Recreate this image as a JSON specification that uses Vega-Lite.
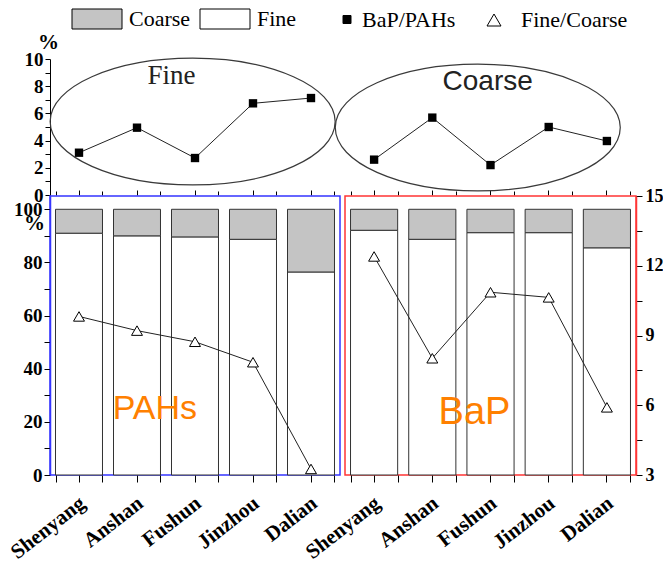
{
"$schema":"https://vega.github.io/schema/vega-lite/v6.json",
"padding":{"left":5,"top":8,"right":0,"bottom":0},
"background":"white",
"config":{
 "font":"Liberation Serif",
 "axis":{"labelFont":"Liberation Serif","labelFontWeight":"bold","labelFontSize":19,"labelColor":"black","tickColor":"black","domainColor":"black","grid":false,"labelOverlap":false,"titleColor":"black","titleFont":"Liberation Serif","titleFontWeight":"bold","titleFontSize":21}
},
"datasets":{
 "bars":[
  {"group":"PAHs","city":"Shenyang","series":"Fine","pct":91.0},
  {"group":"PAHs","city":"Anshan","series":"Fine","pct":90.0},
  {"group":"PAHs","city":"Fushun","series":"Fine","pct":89.6},
  {"group":"PAHs","city":"Jinzhou","series":"Fine","pct":88.7},
  {"group":"PAHs","city":"Dalian","series":"Fine","pct":76.4},
  {"group":"PAHs","city":"Shenyang","series":"Coarse","pct":9.0},
  {"group":"PAHs","city":"Anshan","series":"Coarse","pct":10.0},
  {"group":"PAHs","city":"Fushun","series":"Coarse","pct":10.4},
  {"group":"PAHs","city":"Jinzhou","series":"Coarse","pct":11.3},
  {"group":"PAHs","city":"Dalian","series":"Coarse","pct":23.6},
  {"group":"BaP","city":"Shenyang","series":"Fine","pct":92.1},
  {"group":"BaP","city":"Anshan","series":"Fine","pct":88.7},
  {"group":"BaP","city":"Fushun","series":"Fine","pct":91.2},
  {"group":"BaP","city":"Jinzhou","series":"Fine","pct":91.2},
  {"group":"BaP","city":"Dalian","series":"Fine","pct":85.5},
  {"group":"BaP","city":"Shenyang","series":"Coarse","pct":7.9},
  {"group":"BaP","city":"Anshan","series":"Coarse","pct":11.3},
  {"group":"BaP","city":"Fushun","series":"Coarse","pct":8.8},
  {"group":"BaP","city":"Jinzhou","series":"Coarse","pct":8.8},
  {"group":"BaP","city":"Dalian","series":"Coarse","pct":14.5}
 ],
 "ratio":[
  {"group":"PAHs","city":"Shenyang","r":9.82},
  {"group":"PAHs","city":"Anshan","r":9.21},
  {"group":"PAHs","city":"Fushun","r":8.73},
  {"group":"PAHs","city":"Jinzhou","r":7.85},
  {"group":"PAHs","city":"Dalian","r":3.26},
  {"group":"BaP","city":"Shenyang","r":12.4},
  {"group":"BaP","city":"Anshan","r":8.02},
  {"group":"BaP","city":"Fushun","r":10.86},
  {"group":"BaP","city":"Jinzhou","r":10.64},
  {"group":"BaP","city":"Dalian","r":5.91}
 ],
 "top":[
  {"panel":"Fine","city":"Shenyang","v":3.11},
  {"panel":"Fine","city":"Anshan","v":4.95},
  {"panel":"Fine","city":"Fushun","v":2.72},
  {"panel":"Fine","city":"Jinzhou","v":6.74},
  {"panel":"Fine","city":"Dalian","v":7.13},
  {"panel":"Coarse","city":"Shenyang","v":2.6},
  {"panel":"Coarse","city":"Anshan","v":5.69},
  {"panel":"Coarse","city":"Fushun","v":2.2},
  {"panel":"Coarse","city":"Jinzhou","v":5.0},
  {"panel":"Coarse","city":"Dalian","v":3.97}
 ],
 "ellipses":[
  {"panel":"Fine","city":"Fushun","v":5.4},
  {"panel":"Coarse","city":"Fushun","v":4.96}
 ],
 "titles":[
  {"panel":"Fine","city":"Fushun","v":8.75,"label":"Fine"},
  {"panel":"Coarse","city":"Fushun","v":8.3,"label":"Coarse"}
 ],
 "big":[
  {"group":"PAHs","city":"Anshan","v":24.8,"label":"PAHs"},
  {"group":"BaP","city":"Fushun","v":23.3,"label":"BaP"}
 ]
},
"columns":2,
"spacing":{"row":1,"column":5},
"bounds":"flush",
"concat":[
  {"width":290,"height":136,"view":{"stroke":null},
   "layer":[
    {"data":{"name":"ellipses"},"transform":[{"filter":"datum.panel === 'Fine'"}],
     "mark":{"type":"point","shape":"M-1,0A1,0.445,0,1,1,1,0A1,0.445,0,1,1,-1,0Z","size":81225,"filled":false,"stroke":"#3a3a3a","strokeWidth":1.2,"opacity":1},
     "encoding":{
      "x":{"field":"city","type":"nominal","sort":["Shenyang","Anshan","Fushun","Jinzhou","Dalian"],"bandPosition":0.45,"scale":{"type":"band","paddingInner":0.19,"paddingOuter":0.095},"axis":{"orient":"bottom","domain":false,"labels":false,"ticks":true,"tickSize":5,"offset":-5,"title":null}},
      "y":{"field":"v","type":"quantitative","scale":{"domain":[0,10],"nice":false},"axis":{"orient":"left","values":[0,1,2,3,4,5,6,7,8,9,10],"labelExpr":"datum.value % 2 === 0 ? datum.label : ''","labelOverlap":false,"labelBound":false,"labelFlush":false,"tickSize":5,"title":"%","titleAngle":0,"titleX":-2,"titleY":-17,"titleAlign":"center","titleBaseline":"middle"}}
     }},
    {"data":{"name":"top"},"transform":[{"filter":"datum.panel === 'Fine'"}],
     "mark":{"type":"line","color":"#222","strokeWidth":1,"point":{"shape":"square","filled":true,"color":"black","size":70}},
     "encoding":{
      "x":{"field":"city","type":"nominal","sort":["Shenyang","Anshan","Fushun","Jinzhou","Dalian"],"axis":{"orient":"bottom","domain":false,"labels":false,"tickBand":"extent","tickSize":4,"offset":-4,"title":null}},
      "y":{"field":"v","type":"quantitative","axis":{"orient":"left","values":[0,1,2,3,4,5,6,7,8,9,10],"labelExpr":"datum.value % 2 === 0 ? datum.label : ''","labelOverlap":false,"labelBound":false,"labelFlush":false,"tickSize":5,"title":"%","titleAngle":0,"titleX":-2,"titleY":-17,"titleAlign":"center","titleBaseline":"middle"}}
     }},
    {"data":{"name":"titles"},"transform":[{"filter":"datum.panel === 'Fine'"}],
     "mark":{"type":"text","font":"Liberation Serif","fontSize":27,"color":"#222","align":"center","baseline":"middle"},
     "encoding":{
      "x":{"field":"city","type":"nominal","sort":["Shenyang","Anshan","Fushun","Jinzhou","Dalian"],"bandPosition":0,"axis":null},
      "y":{"field":"v","type":"quantitative","axis":{"orient":"left","values":[0,1,2,3,4,5,6,7,8,9,10],"labelExpr":"datum.value % 2 === 0 ? datum.label : ''","labelOverlap":false,"labelBound":false,"labelFlush":false,"tickSize":5,"title":"%","titleAngle":0,"titleX":-2,"titleY":-17,"titleAlign":"center","titleBaseline":"middle"}},
      "text":{"field":"label"}
     }}
   ],
   "resolve":{"axis":{"x":"independent"}}
  },
  {"width":291,"height":136,"view":{"stroke":null},
   "layer":[
    {"data":{"name":"ellipses"},"transform":[{"filter":"datum.panel === 'Coarse'"}],
     "mark":{"type":"point","shape":"M-1,0A1,0.445,0,1,1,1,0A1,0.445,0,1,1,-1,0Z","size":81225,"filled":false,"stroke":"#3a3a3a","strokeWidth":1.2,"opacity":1},
     "encoding":{
      "x":{"field":"city","type":"nominal","sort":["Shenyang","Anshan","Fushun","Jinzhou","Dalian"],"bandPosition":0.23,"scale":{"type":"band","paddingInner":0.19,"paddingOuter":0.095},"axis":{"orient":"bottom","domain":false,"labels":false,"ticks":true,"tickSize":5,"offset":-5,"title":null}},
      "y":{"field":"v","type":"quantitative","scale":{"domain":[0,10],"nice":false},"axis":null}
     }},
    {"data":{"name":"top"},"transform":[{"filter":"datum.panel === 'Coarse'"}],
     "mark":{"type":"line","color":"#222","strokeWidth":1,"point":{"shape":"square","filled":true,"color":"black","size":70}},
     "encoding":{
      "x":{"field":"city","type":"nominal","sort":["Shenyang","Anshan","Fushun","Jinzhou","Dalian"],"axis":{"orient":"bottom","domain":false,"labels":false,"tickBand":"extent","tickSize":4,"offset":-4,"title":null}},
      "y":{"field":"v","type":"quantitative"}
     }},
    {"data":{"name":"titles"},"transform":[{"filter":"datum.panel === 'Coarse'"}],
     "mark":{"type":"text","font":"Liberation Sans","fontSize":28,"color":"#222","align":"center","baseline":"middle"},
     "encoding":{
      "x":{"field":"city","type":"nominal","sort":["Shenyang","Anshan","Fushun","Jinzhou","Dalian"],"bandPosition":0.44,"axis":null},
      "y":{"field":"v","type":"quantitative"},
      "text":{"field":"label"}
     }}
   ],
   "resolve":{"axis":{"x":"independent"}}
  },
  {"width":290,"height":279,"view":{"stroke":"#3535ff","strokeWidth":1.5},
   "layer":[
    {"data":{"name":"bars"},"transform":[{"filter":"datum.group === 'PAHs'"}],
     "mark":{"type":"bar","stroke":"#333","strokeWidth":1},
     "encoding":{
      "x":{"field":"city","type":"nominal","sort":["Shenyang","Anshan","Fushun","Jinzhou","Dalian"],"scale":{"type":"band","paddingInner":0.19,"paddingOuter":0.095},"axis":{"orient":"bottom","domain":false,"title":null,"labelAngle":-38,"labelFontSize":21,"tickSize":7,"labelPadding":10,"labelOffset":-3}},
      "y":{"field":"pct","type":"quantitative","stack":"zero","scale":{"domain":[0,105],"nice":false},"axis":{"orient":"left","values":[0,10,20,30,40,50,60,70,80,90,100],"labelExpr":"datum.value % 20 === 0 ? datum.label : ''","labelOverlap":false,"domainColor":"#3535ff","domainWidth":1.5,"tickSize":6,"title":"%","titleAngle":0,"titleX":-16,"titleY":27,"titleAlign":"center","titleBaseline":"middle"}},
      "fill":{"field":"series","type":"nominal","scale":{"domain":["Coarse","Fine","BaP/PAHs","Fine/Coarse"],"range":["#c4c4c4","#ffffff","#000000","#ffffff"]},
       "legend":{"orient":"none","legendX":21,"legendY":-51,"direction":"horizontal","title":null,"symbolSize":400,"symbolType":"square","symbolStrokeColor":"black","symbolStrokeWidth":1,"symbolOpacity":1,"labelFont":"Liberation Serif","labelFontSize":22,"labelColor":"black","labelOffset":36,"columnPadding":7,
        "encode":{"symbols":{"update":{"shape":{"signal":"datum.value === 'BaP/PAHs' ? 'M2.8,-0.4L3.6,-0.4L3.6,0.4L2.8,0.4Z' : datum.value === 'Fine/Coarse' ? 'M2.0,-0.55L2.7,0.65L1.3,0.65Z' : 'M-1,-1L4,-1L4,1L-1,1Z'"}}}}}},
      "order":{"field":"series","sort":"descending"}
     }},
    {"data":{"name":"ratio"},"transform":[{"filter":"datum.group === 'PAHs'"}],
     "mark":{"type":"line","color":"#222","strokeWidth":1,"point":{"shape":"triangle-up","filled":true,"fill":"white","stroke":"black","strokeWidth":1,"size":120}},
     "encoding":{
      "x":{"field":"city","type":"nominal","sort":["Shenyang","Anshan","Fushun","Jinzhou","Dalian"],"axis":{"orient":"bottom","domain":false,"labels":false,"tickBand":"extent","tickSize":7,"title":null}},
      "y":{"field":"r","type":"quantitative","scale":{"domain":[3,15],"nice":false},"axis":null}
     }},
    {"data":{"name":"big"},"transform":[{"filter":"datum.group === 'PAHs'"}],
     "mark":{"type":"text","font":"Liberation Sans","fontSize":34,"color":"#ff8000","align":"center","baseline":"middle"},
     "encoding":{
      "x":{"field":"city","type":"nominal","sort":["Shenyang","Anshan","Fushun","Jinzhou","Dalian"],"bandPosition":0.88,"axis":null},
      "y":{"field":"v","type":"quantitative","scale":{"domain":[0,105],"nice":false},"axis":null},
      "text":{"field":"label"}
     }}
   ],
   "resolve":{"scale":{"y":"independent"},"axis":{"x":"independent"}}
  },
  {"width":291,"height":279,"view":{"stroke":"#ff3535","strokeWidth":1.5},
   "layer":[
    {"data":{"name":"bars"},"transform":[{"filter":"datum.group === 'BaP'"}],
     "mark":{"type":"bar","stroke":"#333","strokeWidth":1},
     "encoding":{
      "x":{"field":"city","type":"nominal","sort":["Shenyang","Anshan","Fushun","Jinzhou","Dalian"],"scale":{"type":"band","paddingInner":0.19,"paddingOuter":0.095},"axis":{"orient":"bottom","domain":false,"title":null,"labelAngle":-38,"labelFontSize":21,"tickSize":7,"labelPadding":10,"labelOffset":-3}},
      "y":{"field":"pct","type":"quantitative","stack":"zero","scale":{"domain":[0,105],"nice":false},"axis":null},
      "fill":{"field":"series","type":"nominal"},
      "order":{"field":"series","sort":"descending"}
     }},
    {"data":{"name":"ratio"},"transform":[{"filter":"datum.group === 'BaP'"}],
     "mark":{"type":"line","color":"#222","strokeWidth":1,"point":{"shape":"triangle-up","filled":true,"fill":"white","stroke":"black","strokeWidth":1,"size":120}},
     "encoding":{
      "x":{"field":"city","type":"nominal","sort":["Shenyang","Anshan","Fushun","Jinzhou","Dalian"],"axis":{"orient":"bottom","domain":false,"labels":false,"tickBand":"extent","tickSize":7,"title":null}},
      "y":{"field":"r","type":"quantitative","scale":{"domain":[3,15],"nice":false},"axis":{"orient":"right","values":[3,4.5,6,7.5,9,10.5,12,13.5,15],"labelExpr":"datum.value % 3 === 0 ? datum.label : ''","labelOverlap":false,"domainColor":"#ff3535","domainWidth":1.5,"tickSize":6,"labelPadding":3,"labelFontSize":18,"title":null}}
     }},
    {"data":{"name":"big"},"transform":[{"filter":"datum.group === 'BaP'"}],
     "mark":{"type":"text","font":"Liberation Sans","fontSize":38,"color":"#ff8000","align":"center","baseline":"middle"},
     "encoding":{
      "x":{"field":"city","type":"nominal","sort":["Shenyang","Anshan","Fushun","Jinzhou","Dalian"],"bandPosition":0.16,"axis":null},
      "y":{"field":"v","type":"quantitative","scale":{"domain":[0,105],"nice":false},"axis":null},
      "text":{"field":"label"}
     }}
   ],
   "resolve":{"scale":{"y":"independent"},"axis":{"x":"independent"}}
  }
]
}
